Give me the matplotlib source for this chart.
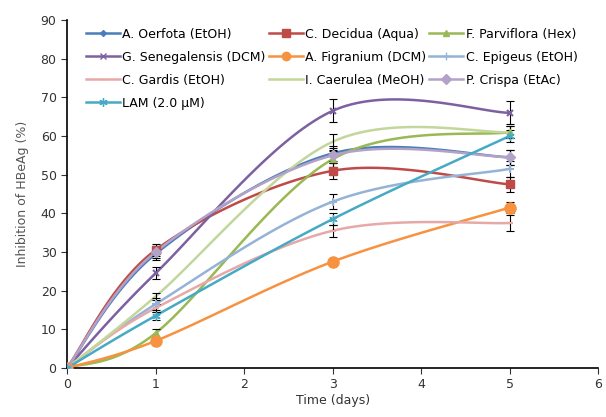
import numpy as np
import matplotlib.pyplot as plt

# days sampled
days = [0, 1, 3, 5]

# inhibition of HBeAg (%) per extract
oerfota = [0, 29.5, 55.5, 54.5]
decidua = [0, 30.5, 51, 47.5]
parviflora = [0, 9, 54, 61]
senegalensis = [0, 24.5, 66.5, 66]
figranium = [0, 7, 27.5, 41.5]
epigeus = [0, 16.5, 43, 51.5]
gardis = [0, 15.5, 35.5, 37.5]
caerulea = [0, 18.5, 58.5, 61]
crispa = [0, 30, 55, 54.5]
lam = [0, 13.5, 38.5, 60]

# standard errors
err_oerfota = [0, 1.5, 2, 2]
err_decidua = [0, 1.5, 2, 2]
err_parviflora = [0, 1, 2, 1.5]
err_senegalensis = [0, 1.5, 3, 3]
err_figranium = [0, 1, 1, 1.5]
err_epigeus = [0, 1.5, 2, 2]
err_gardis = [0, 1, 1.5, 2]
err_caerulea = [0, 1, 2, 1.5]
err_crispa = [0, 1.5, 2, 2]
err_lam = [0, 1, 1.5, 1.5]

labels = ["A. Oerfota (EtOH)", "C. Decidua (Aqua)", "F. Parviflora (Hex)",
          "G. Senegalensis (DCM)", "A. Figranium (DCM)", "C. Epigeus (EtOH)",
          "C. Gardis (EtOH)", "I. Caerulea (MeOH)", "P. Crispa (EtAc)",
          "LAM (2.0 \u00b5M)"]
series = [oerfota, decidua, parviflora, senegalensis, figranium, epigeus,
          gardis, caerulea, crispa, lam]
errors = [err_oerfota, err_decidua, err_parviflora, err_senegalensis,
          err_figranium, err_epigeus, err_gardis, err_caerulea, err_crispa, err_lam]
colors = ["#4A7EBB", "#BE4B48", "#98B954", "#7D60A0", "#F69240", "#95B3D7",
          "#E6A9A8", "#C3D69B", "#B3A2C7", "#46AAC5"]
markers = ["D", "s", "^", "x", "o", "+", "_", None, "D", (6, 2, 0)]
msizes = [3, 6, 5, 5, 8, 6, 5, 0, 5, 6]


def smooth(xs, ys, n=40):
    # excel-like smoothed line (catmull-rom as cubic bezier)
    p = np.column_stack([xs, ys]).astype(float)
    p = np.vstack([p[0], p, p[-1]])
    t = np.linspace(0, 1, n)[:, None]
    out = []
    for i in range(1, len(p) - 2):
        p0, p1, p2, p3 = p[i - 1], p[i], p[i + 1], p[i + 2]
        c1 = p1 + (p2 - p0) / 6
        c2 = p2 - (p3 - p1) / 6
        seg = ((1 - t) ** 3) * p1 + 3 * ((1 - t) ** 2) * t * c1 + 3 * (1 - t) * t ** 2 * c2 + t ** 3 * p2
        out.append(seg)
    out = np.vstack(out)
    return out[:, 0], out[:, 1]


fig = plt.figure(figsize=(6.06, 4.17), dpi=100)
ax = fig.add_axes([0.1106, 0.1175, 0.8764, 0.8345])

handles = []
for ys, es, c, m, ms, lab in zip(series, errors, colors, markers, msizes, labels):
    sx, sy = smooth(days, ys)
    ax.plot(sx, sy, color=c, lw=1.8, zorder=2)
    ax.errorbar(days, ys, yerr=es, fmt="none", ecolor="black", elinewidth=0.8,
                capsize=3, capthick=0.8, zorder=3)
    if m is not None:
        ax.plot(days, ys, linestyle="none", marker=m, color=c, ms=ms,
                mew=1.5 if m in ("x", "+", "_") else 1, zorder=4)
    # legend proxy
    h, = ax.plot([], [], color=c, lw=1.8, marker=m, ms=min(ms, 6), label=lab)
    handles.append(h)

# legend in excel order: fill row by row
ncol = 3
order = [i for c in range(ncol) for i in range(c, len(handles), ncol)]
ax.legend([handles[i] for i in order], [labels[i] for i in order],
          ncol=ncol, loc="upper left", bbox_to_anchor=(0.022, 1.0), frameon=False,
          fontsize=9, handlelength=2.7, handletextpad=0.2, columnspacing=0.25,
          labelspacing=0.8, borderaxespad=0.2)

ax.set_xlim(0, 6)
ax.set_ylim(0, 90)
ax.set_xticks(range(0, 7))
ax.set_yticks(range(0, 91, 10))
for s in ["top", "right"]:
    ax.spines[s].set_visible(False)
for s in ["left", "bottom"]:
    ax.spines[s].set_linewidth(1.2)
ax.tick_params(labelsize=9, colors="#333333", length=4)
ax.set_xlabel("Time (days)", fontsize=9, color="#333333", labelpad=2)
ax.set_ylabel("Inhibition of HBeAg (%)", fontsize=9, color="#555555", labelpad=8)

fig.savefig("out.png", dpi=100)
